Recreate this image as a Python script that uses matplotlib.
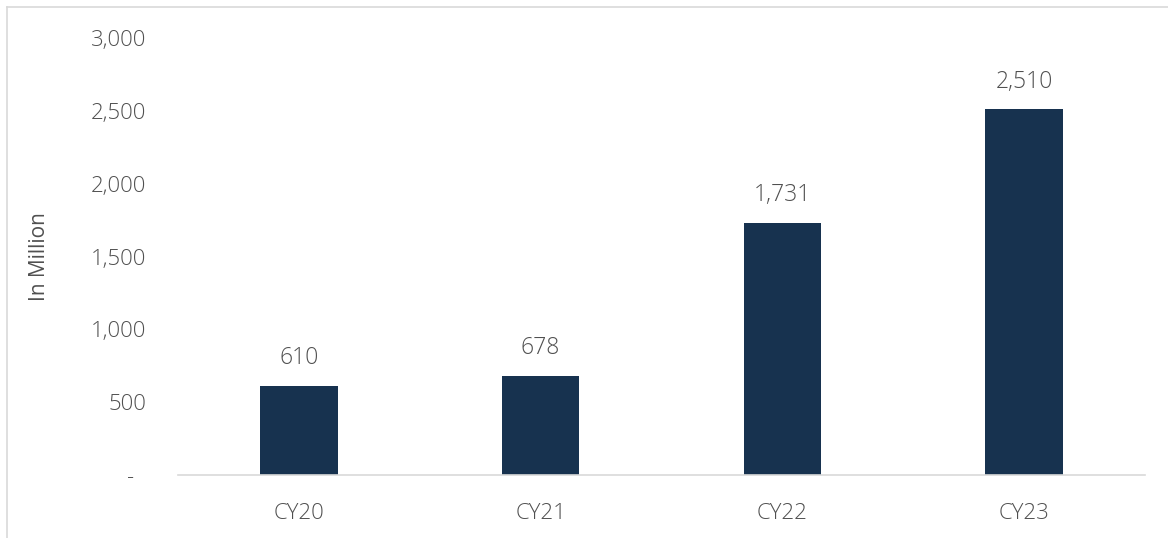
import matplotlib.pyplot as plt
from matplotlib.lines import Line2D
from matplotlib.ticker import FuncFormatter

years = ["CY20", "CY21", "CY22", "CY23"]
values = [610, 678, 1731, 2510]
y_ticks = [0, 500, 1000, 1500, 2000, 2500, 3000]

bar_color = "#17324f"
text_color = "#505050"
plt.rcParams["font.family"] = ["Open Sans", "DejaVu Sans"]
plt.rcParams["font.weight"] = "light"


def fmt(v, pos):
    return f"{v:,.0f}" if v != 0 else "-  "


def main():
    fig = plt.figure(figsize=(11.68, 5.38), dpi=100)
    ax = fig.add_axes([178 / 1168, 1 - 475 / 538, (1145 - 178) / 1168, (475 - 38) / 538])
    x = range(len(years))
    ax.bar(x, values, width=0.32, color=bar_color, zorder=2)
    for xi, v in zip(x, values):
        ax.annotate(f"{v:,}", xy=(xi, v), xytext=(0, 20), textcoords="offset points",
                    ha="center", va="center", fontsize=16.5, color=text_color)

    ax.set_xlim(-0.5, 3.5)
    ax.set_ylim(0, 3000)
    ax.set_yticks(y_ticks)
    ax.yaxis.set_major_formatter(FuncFormatter(fmt))
    ax.set_xticks(list(x))
    ax.set_xticklabels(years)
    ax.tick_params(axis="y", length=0, pad=23, labelsize=16, labelcolor=text_color)
    ax.tick_params(axis="x", length=0, pad=20, labelsize=16, labelcolor=text_color)
    for s in ["top", "right", "left"]:
        ax.spines[s].set_visible(False)
    ax.spines["bottom"].set_color("#d9d9d9")
    ax.spines["bottom"].set_linewidth(1.2)
    ax.set_ylabel("In Million", fontsize=15, color=text_color)
    ax.yaxis.set_label_coords(-128 / 967, 0.5)

    # chart border lines (left and top)
    fig.add_artist(Line2D([7 / 1168, 7 / 1168], [0, 1 - 7 / 538], transform=fig.transFigure,
                          color="#d9d9d9", lw=1.2))
    fig.add_artist(Line2D([7 / 1168, 1], [1 - 7 / 538, 1 - 7 / 538], transform=fig.transFigure,
                          color="#d9d9d9", lw=1.2))

    fig.savefig("out.png", dpi=100)


if __name__ == "__main__":
    main()
